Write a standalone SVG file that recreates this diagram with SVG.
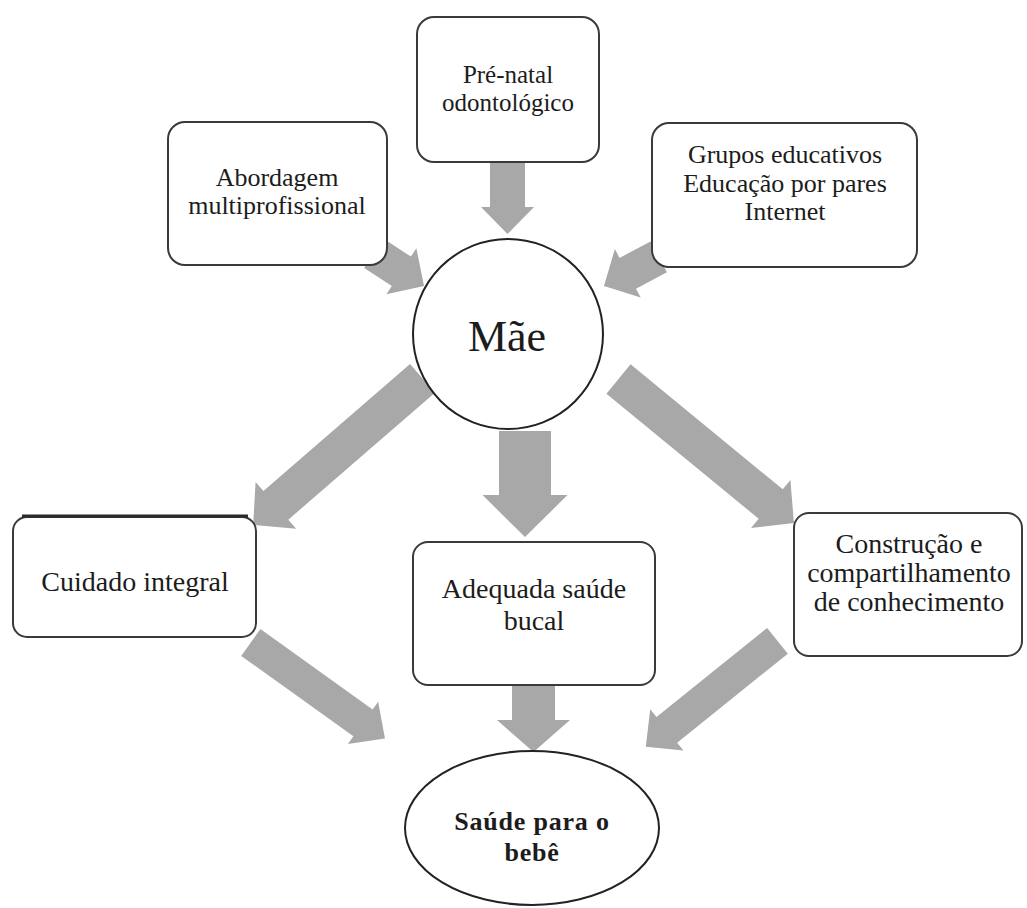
<svg xmlns="http://www.w3.org/2000/svg" width="1027" height="908" viewBox="0 0 1027 908">
<style>
.box{fill:#fff;stroke:#3a3a3a;stroke-width:2}
.ring{fill:#fff;stroke:#222;stroke-width:2}
.arr{fill:#a8a8a8;stroke:none}
text{font-family:"Liberation Serif","Times New Roman",serif;fill:#1c1c1c;text-anchor:middle}
.t25{font-size:25px}
.t26{font-size:26px}
.t28{font-size:28px}
.big{font-size:44px}
.bold{font-size:26px;font-weight:bold;letter-spacing:0.8px}
</style>
<rect width="1027" height="908" fill="#fff"/>
<g id="connectors">
<polygon class="arr" transform="translate(373.7,253.3) rotate(33)" points="0,-17.5 33,-17.5 33,-27.5 60,0 33,27.5 33,17.5 0,17.5"/>
<polygon class="arr" transform="translate(507.5,158) rotate(90)" points="0,-17.5 49,-17.5 49,-26.5 76,0 49,26.5 49,17.5 0,17.5"/>
<polygon class="arr" transform="translate(658.7,256.9) rotate(152)" points="0,-17.5 35,-17.5 35,-27.5 62,0 35,27.5 35,17.5 0,17.5"/>
<polygon class="arr" transform="translate(422.5,378.3) rotate(139.1)" points="0,-19 194,-19 194,-31 224,0 194,31 194,19 0,19"/>
<polygon class="arr" transform="translate(525,431) rotate(90)" points="0,-26 64,-26 64,-42.5 106,0 64,42.5 64,26 0,26"/>
<polygon class="arr" transform="translate(618.5,379) rotate(39.4)" points="0,-19 197,-19 197,-31 227,0 197,31 197,19 0,19"/>
<polygon class="arr" transform="translate(250.8,642.5) rotate(35.6)" points="0,-16.5 138,-16.5 138,-26 165,0 138,26 138,16.5 0,16.5"/>
<polygon class="arr" transform="translate(533.5,683) rotate(90)" points="0,-21.5 37,-21.5 37,-36.5 69,0 37,36.5 37,21.5 0,21.5"/>
<polygon class="arr" transform="translate(777.5,640.8) rotate(141.2)" points="0,-16.5 142,-16.5 142,-26.5 169,0 142,26.5 142,16.5 0,16.5"/>
</g>
<g id="abordagem">
<rect class="box" x="168" y="122" width="219" height="143" rx="17"/>
<text class="t26" x="277" y="186">Abordagem</text>
<text class="t26" x="277" y="214">multiprofissional</text>
</g>
<g id="prenatal">
<rect class="box" x="417" y="17" width="182" height="145" rx="17"/>
<text class="t25" x="508" y="83">Pré-natal</text>
<text class="t25" x="508" y="111">odontológico</text>
</g>
<g id="grupos">
<rect class="box" x="652" y="123" width="265" height="144" rx="17"/>
<text class="t26" x="785" y="163">Grupos educativos</text>
<text class="t26" x="785" y="192">Educação por pares</text>
<text class="t26" x="785" y="220">Internet</text>
</g>
<g id="mae">
<circle class="ring" cx="508" cy="334" r="95"/>
<text class="big" x="507" y="351">Mãe</text>
</g>
<g id="cuidado">
<rect class="box" x="13" y="517" width="243" height="120" rx="14"/>
<line x1="22" y1="516" x2="248" y2="516" stroke="#2a2a2a" stroke-width="3"/>
<text class="t28" x="135" y="591">Cuidado integral</text>
</g>
<g id="adequada">
<rect class="box" x="413" y="542" width="242" height="143" rx="15"/>
<text class="t28" x="534" y="598">Adequada saúde</text>
<text class="t28" x="534" y="630">bucal</text>
</g>
<g id="construcao">
<rect class="box" x="794" y="513" width="228" height="143" rx="15"/>
<text class="t28" x="909" y="553">Construção e</text>
<text class="t28" x="909" y="582">compartilhamento</text>
<text class="t28" x="909" y="611">de conhecimento</text>
</g>
<g id="saude">
<ellipse class="ring" cx="532" cy="828" rx="127" ry="77"/>
<text class="bold" x="532" y="830">Saúde para o</text>
<text class="bold" x="532" y="861">bebê</text>
</g>
</svg>
